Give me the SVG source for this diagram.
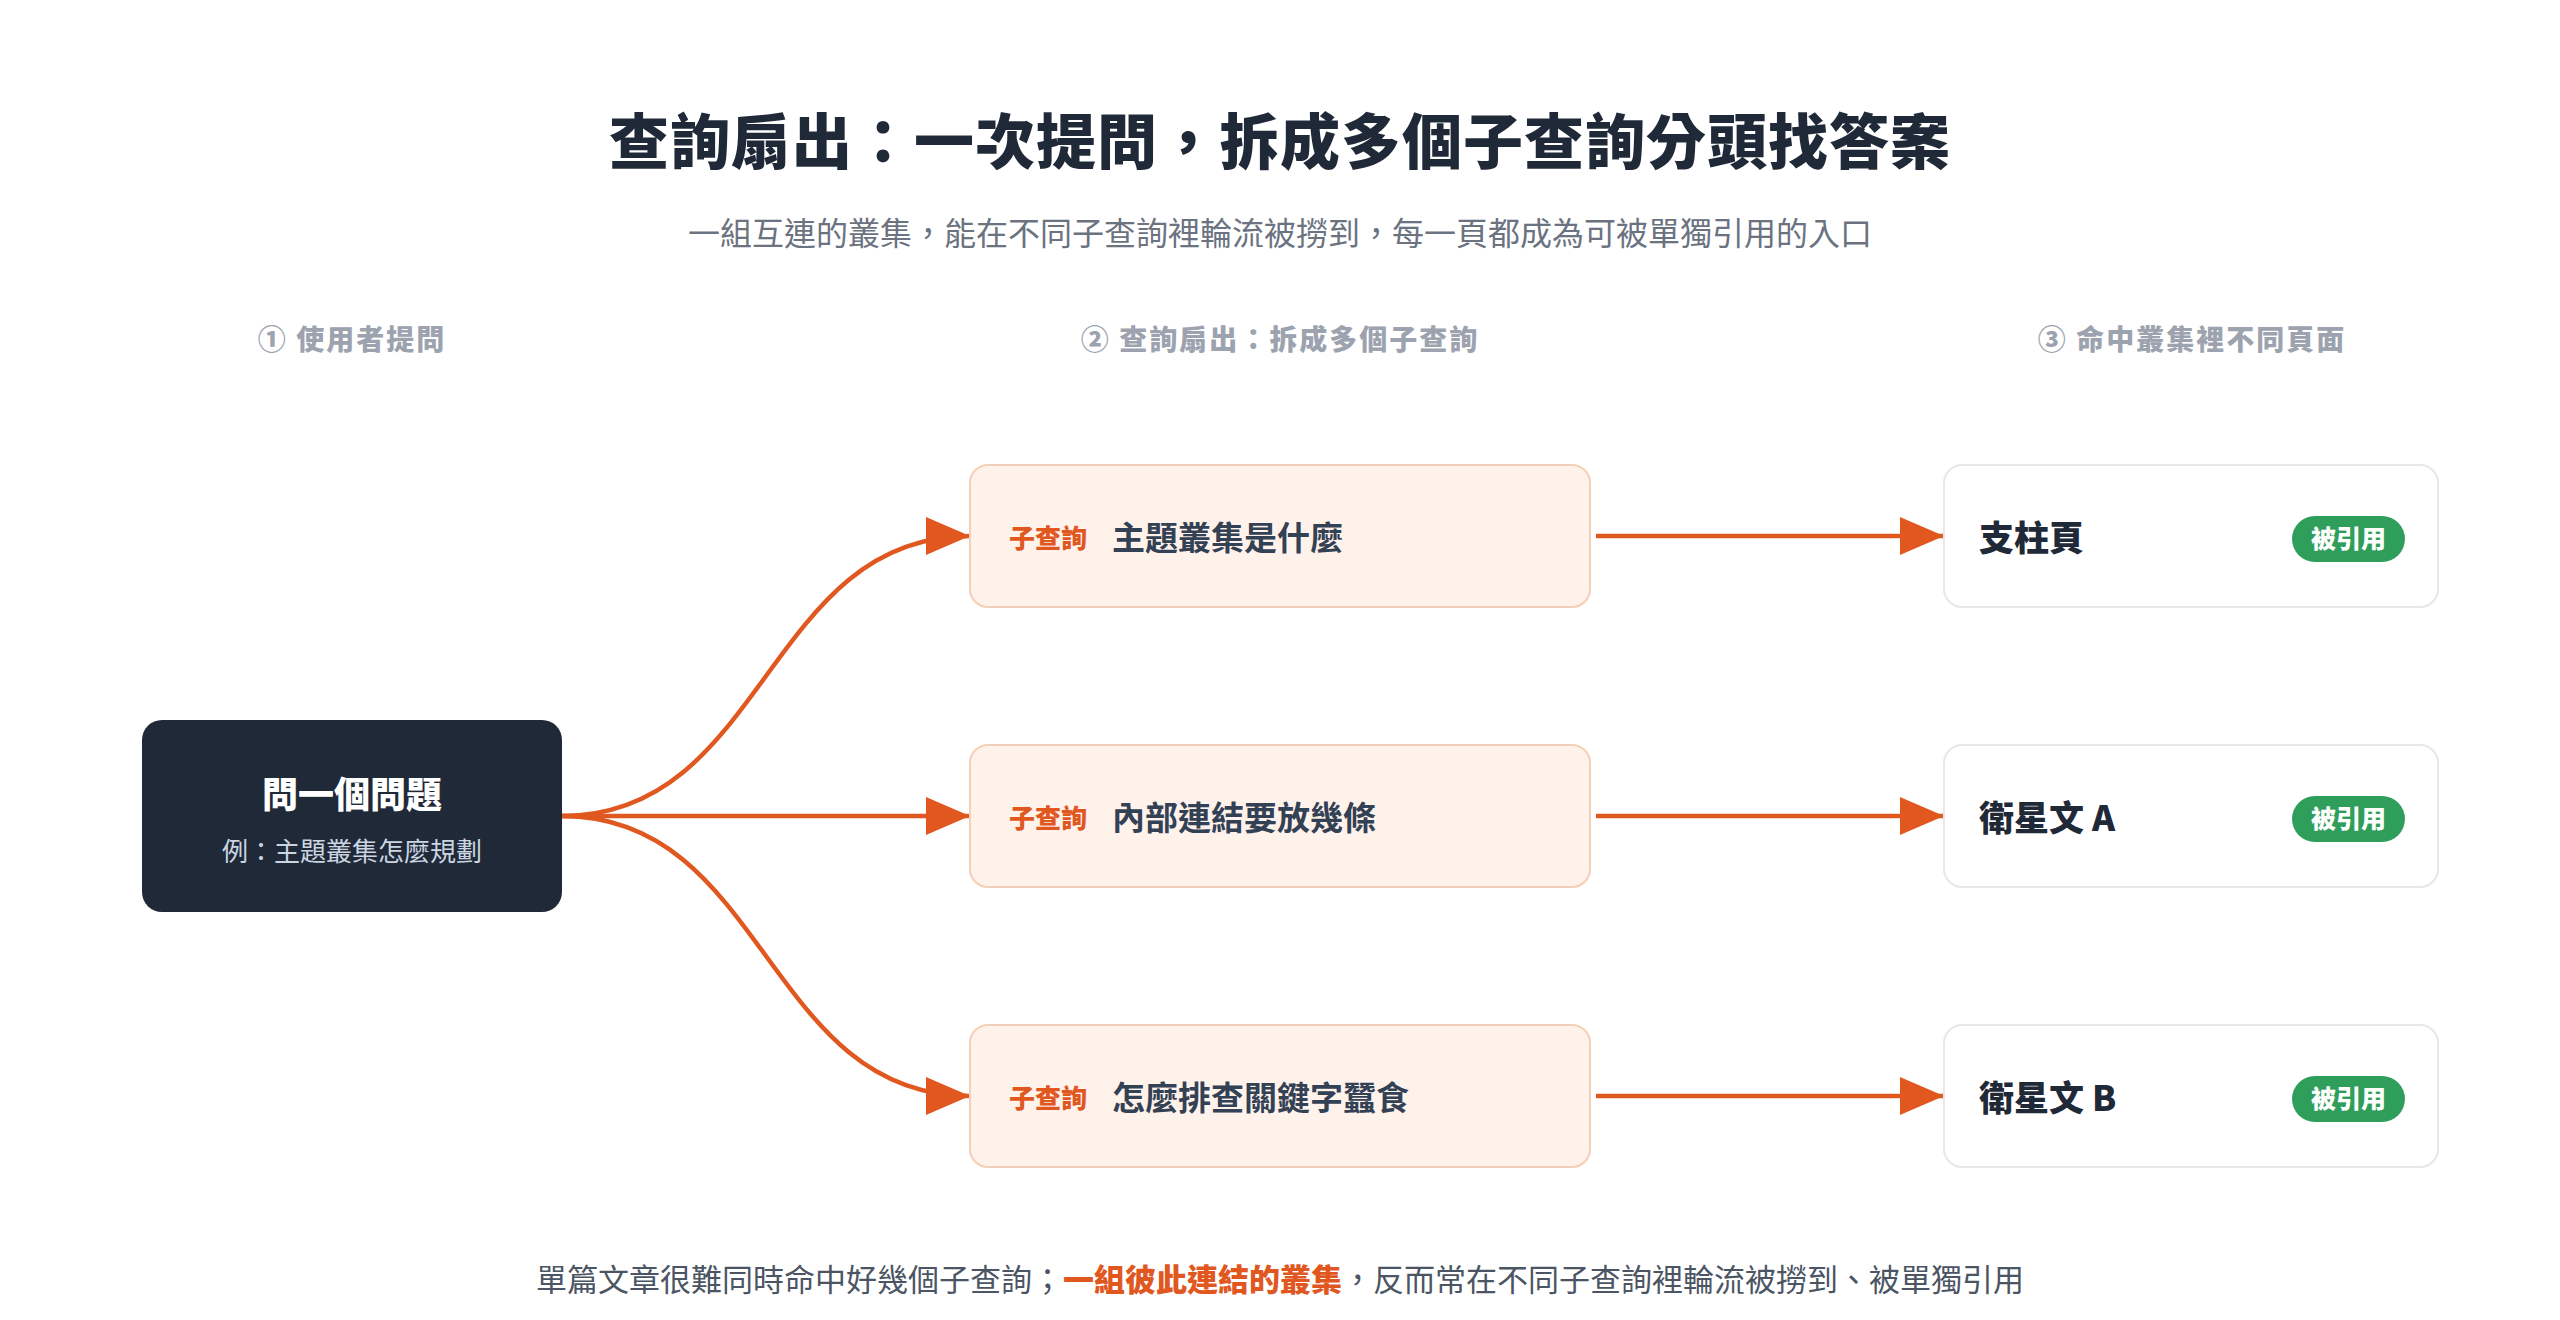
<svg xmlns="http://www.w3.org/2000/svg" width="2560" height="1320" viewBox="0 0 2560 1320">
  <style>
    text { font-family: "Noto Sans CJK TC", "Noto Sans CJK SC", "Noto Sans", sans-serif; }
    .title { font-size: 60px; font-weight: 900; fill: #1f2937; letter-spacing: 1px; }
    .subtitle { font-size: 32px; font-weight: 400; fill: #6b7280; }
    .colhead { font-size: 28px; font-weight: 800; fill: #9ca3af; letter-spacing: 2px; }
    .caption { font-size: 31px; font-weight: 400; fill: #4b5563; }
    .caption .hl { fill: #e0581f; font-weight: 800; }
    .src-box { fill: #1f2937; }
    .src-title { font-size: 36px; font-weight: 900; fill: #ffffff; }
    .src-sub { font-size: 26px; font-weight: 400; fill: #cbd5e1; }
    .q-box { fill: #fff2eb; stroke: #f3cfb8; stroke-width: 2; }
    .q-tag { font-size: 26px; font-weight: 800; fill: #e0581f; }
    .q-text { font-size: 33px; font-weight: 700; fill: #334155; }
    .p-box { fill: #ffffff; stroke: #e5e7eb; stroke-width: 2; }
    .p-text { font-size: 35px; font-weight: 800; fill: #1f2937; }
    .badge { fill: #2f9e5b; }
    .badge-text { font-size: 25px; font-weight: 800; fill: #ffffff; }
    .conn { fill: none; stroke: #e0581f; stroke-width: 4.5; }
  </style>
  <defs>
    <marker id="arrow" viewBox="0 0 44 38" refX="44" refY="19" markerWidth="44" markerHeight="38" markerUnits="userSpaceOnUse" orient="auto">
      <path d="M0,0 L44,19 L0,38 Z" fill="#e0581f"/>
    </marker>
  </defs>
  <rect x="0" y="0" width="2560" height="1320" fill="#ffffff"/>

  <g id="header">
    <text class="title" x="1280" y="164" text-anchor="middle">查詢扇出：一次提問，拆成多個子查詢分頭找答案</text>
    <text class="subtitle" x="1280" y="245" text-anchor="middle">一組互連的叢集，能在不同子查詢裡輪流被撈到，每一頁都成為可被單獨引用的入口</text>
  </g>

  <g id="column-headers">
    <text class="colhead" x="352" y="350" text-anchor="middle">① 使用者提問</text>
    <text class="colhead" x="1280" y="350" text-anchor="middle">② 查詢扇出：拆成多個子查詢</text>
    <text class="colhead" x="2192" y="350" text-anchor="middle">③ 命中叢集裡不同頁面</text>
  </g>

  <g id="connectors">
    <path class="conn" d="M562,816 C766,816 766,536 970,536" marker-end="url(#arrow)"/>
    <path class="conn" d="M562,816 L970,816" marker-end="url(#arrow)"/>
    <path class="conn" d="M562,816 C766,816 766,1096 970,1096" marker-end="url(#arrow)"/>
    <path class="conn" d="M1596,536 L1944,536" marker-end="url(#arrow)"/>
    <path class="conn" d="M1596,816 L1944,816" marker-end="url(#arrow)"/>
    <path class="conn" d="M1596,1096 L1944,1096" marker-end="url(#arrow)"/>
  </g>

  <g id="node-question">
    <rect class="src-box" x="142" y="720" width="420" height="192" rx="20"/>
    <text class="src-title" x="352" y="808" text-anchor="middle">問一個問題</text>
    <text class="src-sub" x="352" y="861" text-anchor="middle">例：主題叢集怎麼規劃</text>
  </g>

  <g id="node-q1">
    <rect class="q-box" x="970" y="465" width="620" height="142" rx="18"/>
    <text class="q-tag" x="1009" y="548">子查詢</text>
    <text class="q-text" x="1112" y="550">主題叢集是什麼</text>
  </g>
  <g id="node-q2">
    <rect class="q-box" x="970" y="745" width="620" height="142" rx="18"/>
    <text class="q-tag" x="1009" y="828">子查詢</text>
    <text class="q-text" x="1112" y="830">內部連結要放幾條</text>
  </g>
  <g id="node-q3">
    <rect class="q-box" x="970" y="1025" width="620" height="142" rx="18"/>
    <text class="q-tag" x="1009" y="1108">子查詢</text>
    <text class="q-text" x="1112" y="1110">怎麼排查關鍵字蠶食</text>
  </g>

  <g id="node-p1">
    <rect class="p-box" x="1944" y="465" width="494" height="142" rx="18"/>
    <text class="p-text" x="1979" y="551">支柱頁</text>
    <rect class="badge" x="2292" y="516" width="113" height="46" rx="23"/>
    <text class="badge-text" x="2348.5" y="548" text-anchor="middle">被引用</text>
  </g>
  <g id="node-p2">
    <rect class="p-box" x="1944" y="745" width="494" height="142" rx="18"/>
    <text class="p-text" x="1979" y="831">衛星文 A</text>
    <rect class="badge" x="2292" y="796" width="113" height="46" rx="23"/>
    <text class="badge-text" x="2348.5" y="828" text-anchor="middle">被引用</text>
  </g>
  <g id="node-p3">
    <rect class="p-box" x="1944" y="1025" width="494" height="142" rx="18"/>
    <text class="p-text" x="1979" y="1111">衛星文 B</text>
    <rect class="badge" x="2292" y="1076" width="113" height="46" rx="23"/>
    <text class="badge-text" x="2348.5" y="1108" text-anchor="middle">被引用</text>
  </g>

  <g id="footer">
    <text class="caption" x="1280" y="1291" text-anchor="middle">單篇文章很難同時命中好幾個子查詢；<tspan class="hl">一組彼此連結的叢集</tspan>，反而常在不同子查詢裡輪流被撈到、被單獨引用</text>
  </g>
</svg>
